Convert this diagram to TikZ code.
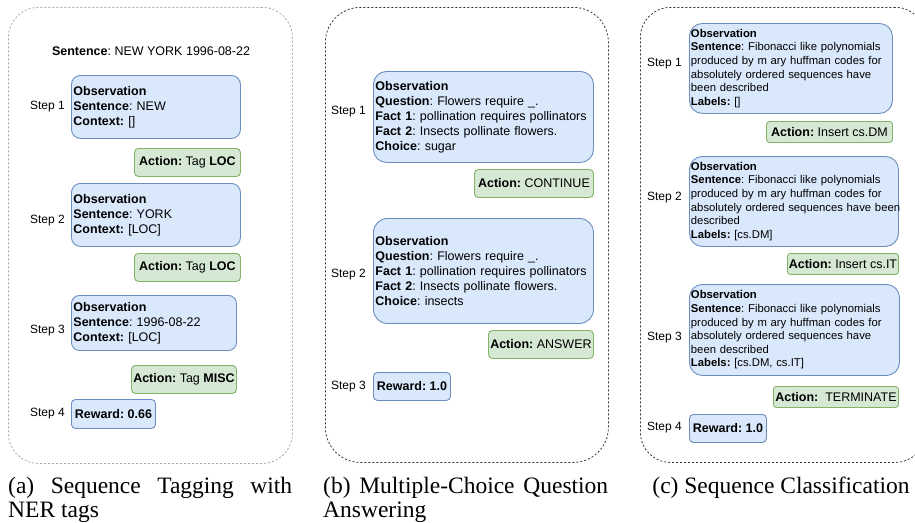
\documentclass[tikz,border=0pt]{standalone}
\usepackage{fontspec}
\setmainfont{Liberation Sans}
\newfontfamily\capfont{Liberation Serif}
\frenchspacing
\definecolor{obsfill}{HTML}{DAE8FC}
\definecolor{obsline}{HTML}{6C8EBF}
\definecolor{actfill}{HTML}{D5E8D4}
\definecolor{actline}{HTML}{82B366}
\definecolor{frameA}{HTML}{A6A6A6}
\definecolor{frameB}{HTML}{333333}
\tikzset{
  frame/.style={dash pattern=on 2pt off 2pt, line width=0.8pt, anchor=north west, inner sep=0pt},
  obsbox/.style={draw=obsline, fill=obsfill, line width=0.9pt, anchor=north west, align=left, inner xsep=2pt, inner ysep=0pt},
  actbox/.style={draw=actline, fill=actfill, line width=0.9pt, anchor=north west, align=center, inner sep=0pt, rounded corners=4pt},
  rewbox/.style={draw=obsline, fill=obsfill, line width=0.9pt, anchor=north west, align=center, inner sep=0pt, rounded corners=4pt},
  steplbl/.style={anchor=east, inner sep=0pt, font=\fontsize{12}{14}\selectfont},
  fa/.style={font=\fontsize{12.5}{15}\selectfont},
  fc/.style={font=\fontsize{11.3}{13.6}\selectfont},
  capt/.style={anchor=base west, inner sep=0pt, font=\capfont\fontsize{23.5}{24}\selectfont}
}
\begin{document}
\begin{tikzpicture}[x=1pt,y=-1pt]
\useasboundingbox (0,0) rectangle (915,522);
% ---------- panel (a)
\node[frame, draw=frameA, rounded corners=30pt, minimum width=284pt, minimum height=456pt] (frA) at (8,7) {};
\node[fa, inner sep=0pt] (sentA) at (151,51) {\textbf{Sentence}: NEW YORK 1996-08-22};
\node[obsbox, fa, rounded corners=9pt, minimum width=169pt, minimum height=63pt, text width=165pt] (oa1) at (71,75)
  {\textbf{Observation}\\\textbf{Sentence}: NEW\\\textbf{Context:} []};
\node[actbox, fa, minimum width=106pt, minimum height=28pt] (aa1) at (134,148) {\textbf{Action:} Tag \textbf{LOC}};
\node[obsbox, fa, rounded corners=9pt, minimum width=169pt, minimum height=63pt, text width=165pt] (oa2) at (71,183)
  {\textbf{Observation}\\\textbf{Sentence}: YORK\\\textbf{Context:} [LOC]};
\node[actbox, fa, minimum width=106pt, minimum height=28pt] (aa2) at (134,253) {\textbf{Action:} Tag \textbf{LOC}};
\node[obsbox, fa, rounded corners=8pt, minimum width=165pt, minimum height=55pt, text width=161pt] (oa3) at (71,295)
  {\textbf{Observation}\\\textbf{Sentence}: 1996-08-22\\\textbf{Context:} [LOC]};
\node[actbox, fa, minimum width=105pt, minimum height=28pt] (aa3) at (131,365) {\textbf{Action:} Tag \textbf{MISC}};
\node[rewbox, fa, minimum width=84pt, minimum height=29pt] (ra) at (71,399) {\textbf{Reward: 0.66}};
\node[steplbl] (sa1) at (65,107) {Step 1};
\node[steplbl] (sa2) at (65,221) {Step 2};
\node[steplbl] (sa3) at (65,331) {Step 3};
\node[steplbl] (sa4) at (65,414) {Step 4};
\node[capt] (capA1) at (8,493) {\makebox[284pt][s]{(a) Sequence Tagging with}};
\node[capt] (capA2) at (8,517) {NER tags};
% ---------- panel (b)
\node[frame, draw=frameB, rounded corners=35pt, minimum width=283pt, minimum height=455pt] (frB) at (325,7) {};
\node[obsbox, fa, rounded corners=13pt, minimum width=220pt, minimum height=91pt, text width=216pt] (ob1) at (373,71)
  {\textbf{Observation}\\\textbf{Question}: Flowers require \_.\\\textbf{Fact 1}: pollination requires pollinators\\\textbf{Fact 2}: Insects pollinate flowers.\\\textbf{Choice}: sugar};
\node[actbox, fa, minimum width=119pt, minimum height=28pt] (ab1) at (474,169) {\textbf{Action:} CONTINUE};
\node[obsbox, fa, rounded corners=14pt, minimum width=220pt, minimum height=105pt, text width=216pt] (ob2) at (373,218)
  {\textbf{Observation}\\\textbf{Question}: Flowers require \_.\\\textbf{Fact 1}: pollination requires pollinators\\\textbf{Fact 2}: Insects pollinate flowers.\\\textbf{Choice}: insects};
\node[actbox, fa, minimum width=105pt, minimum height=28pt] (ab2) at (488,330) {\textbf{Action:} ANSWER};
\node[rewbox, fa, minimum width=77pt, minimum height=28pt] (rb) at (373,372) {\textbf{Reward: 1.0}};
\node[steplbl] (sb1) at (366,112) {Step 1};
\node[steplbl] (sb2) at (366,275) {Step 2};
\node[steplbl] (sb3) at (366,387) {Step 3};
\node[capt] (capB1) at (323,493) {\makebox[285pt][s]{(b) Multiple-Choice Question}};
\node[capt] (capB2) at (323,517) {Answering};
% ---------- panel (c)
\node[frame, draw=frameB, rounded corners=30pt, minimum width=285pt, minimum height=455pt] (frC) at (640,7) {};
\node[obsbox, fc, rounded corners=13pt, minimum width=203pt, minimum height=90pt, text width=200pt, inner xsep=1.5pt] (oc1) at (689,23)
  {\textbf{Observation}\\\mbox{\textbf{Sentence}: Fibonacci like polynomials}\\\mbox{produced by m ary huffman codes for}\\\mbox{absolutely ordered sequences have}\\been described\\\textbf{Labels:} []};
\node[actbox, fa, rounded corners=3pt, minimum width=126pt, minimum height=21pt] (ac1) at (766,121) {\textbf{Action:} Insert cs.DM};
\node[obsbox, fc, rounded corners=13pt, minimum width=209pt, minimum height=90pt, text width=206pt, inner xsep=1.5pt] (oc2) at (689,156)
  {\textbf{Observation}\\\mbox{\textbf{Sentence}: Fibonacci like polynomials}\\\mbox{produced by m ary huffman codes for}\\\mbox{absolutely ordered sequences have been}\\described\\\textbf{Labels:} [cs.DM]};
\node[actbox, fa, rounded corners=3pt, minimum width=111pt, minimum height=21pt] (ac2) at (787,253) {\textbf{Action:} Insert cs.IT};
\node[obsbox, fc, rounded corners=13pt, minimum width=210pt, minimum height=91pt, text width=207pt, inner xsep=1.5pt] (oc3) at (689,284)
  {\textbf{Observation}\\\mbox{\textbf{Sentence}: Fibonacci like polynomials}\\\mbox{produced by m ary huffman codes for}\\\mbox{absolutely ordered sequences have}\\been described\\\textbf{Labels:} [cs.DM, cs.IT]};
\node[actbox, fa, rounded corners=3pt, minimum width=125pt, minimum height=21pt] (ac3) at (773,386) {\textbf{Action:}\ \ TERMINATE};
\node[rewbox, fa, minimum width=77pt, minimum height=28pt] (rc) at (689,414) {\textbf{Reward: 1.0}};
\node[steplbl] (sc1) at (682,64) {Step 1};
\node[steplbl] (sc2) at (682,198) {Step 2};
\node[steplbl] (sc3) at (682,338) {Step 3};
\node[steplbl] (sc4) at (682,428) {Step 4};
\node[capt, anchor=base] (capC) at (781,493) {(c) Sequence Classification};
\end{tikzpicture}
\end{document}
